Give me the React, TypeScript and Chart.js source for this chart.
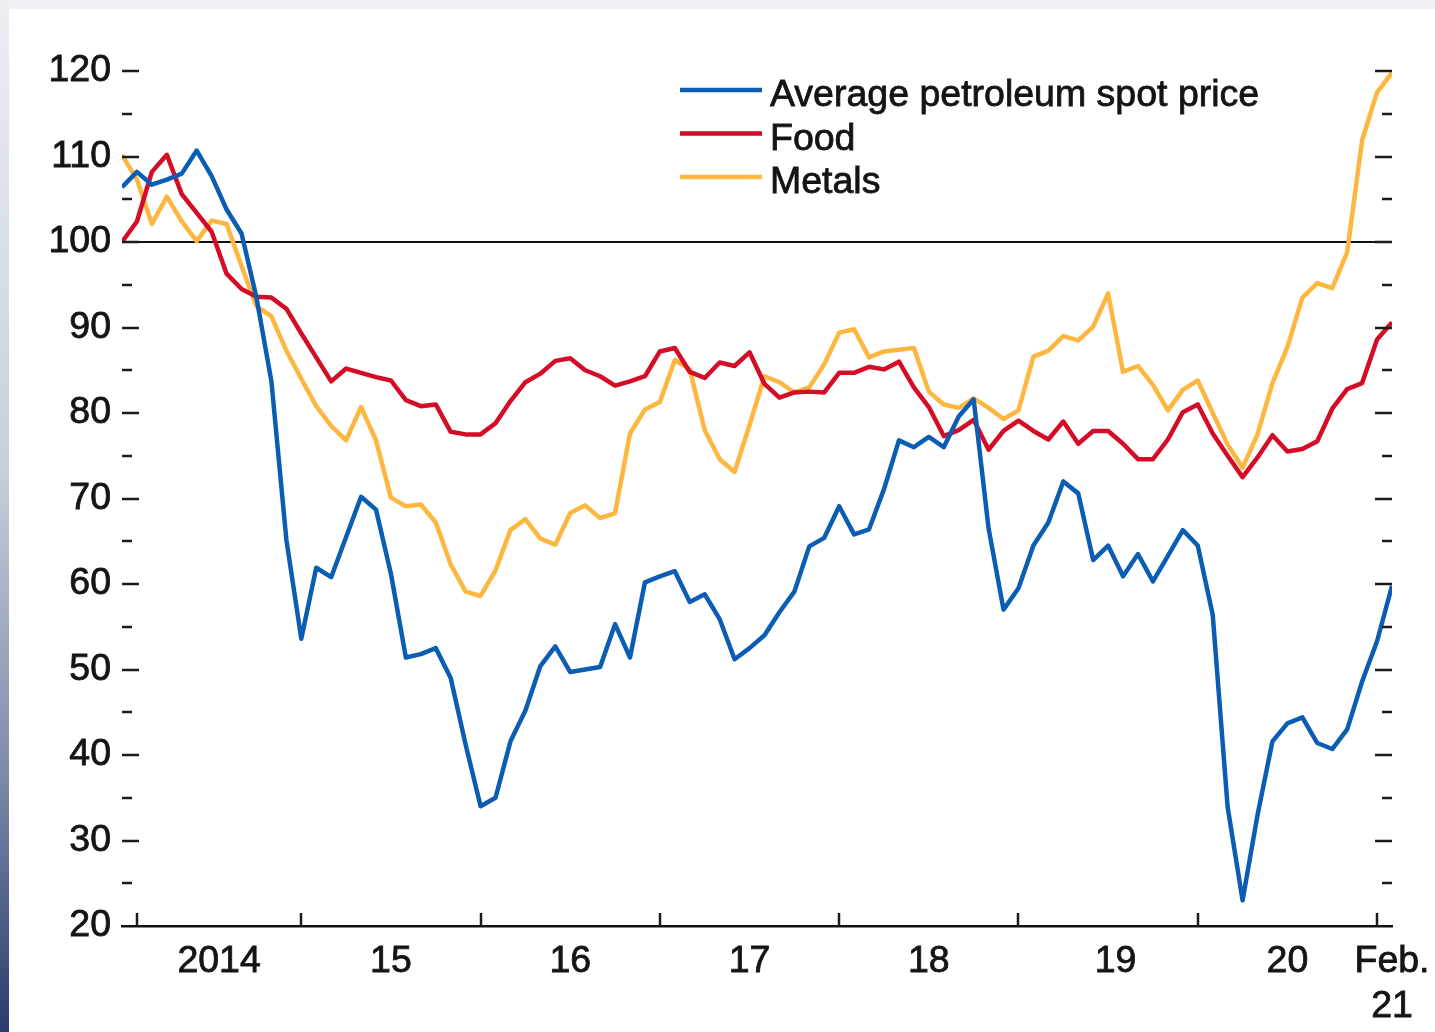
import React, { useEffect, useRef } from "react";
import { Chart, registerables } from "chart.js";

Chart.register(...registerables);

// Monthly data, index 0 = Jan 2014 ... index 85 = Feb 2021 (index, 2014 = 100)
const petroleum = [
  106.4, 108.2, 106.7, 107.3, 108.0, 110.7, 107.7, 103.8, 101.0, 93.5,
  83.7, 65.2, 53.6, 61.9, 60.8, 65.5, 70.2, 68.7, 61.2, 51.4,
  51.8, 52.5, 49.0, 41.2, 34.0, 35.0, 41.6, 45.2, 50.4, 52.7,
  49.7, 50.0, 50.3, 55.3, 51.4, 60.2, 60.9, 61.5, 57.9, 58.8,
  55.9, 51.2, 52.5, 54.0, 56.7, 59.1, 64.4, 65.4, 69.1, 65.8,
  66.4, 71.1, 76.8, 76.0, 77.2, 76.0, 79.6, 81.6, 66.5, 57.0,
  59.5, 64.5, 67.2, 72.0, 70.6, 62.8, 64.5, 60.9, 63.5, 60.3,
  63.3, 66.3, 64.5, 56.4, 33.9, 23.0, 33.0, 41.6, 43.7, 44.4,
  41.4, 40.7, 43.0, 48.6, 53.3, 59.8,
];
const food = [
  100.0, 102.4, 108.2, 110.2, 105.6, 103.4, 101.2, 96.3, 94.5, 93.6,
  93.5, 92.2, 89.3, 86.5, 83.7, 85.2, 84.7, 84.2, 83.8, 81.5,
  80.8, 81.0, 77.8, 77.5, 77.5, 78.8, 81.4, 83.6, 84.6, 86.1,
  86.4, 85.0, 84.3, 83.2, 83.7, 84.3, 87.2, 87.6, 84.8, 84.1,
  85.9, 85.5, 87.1, 83.4, 81.8, 82.4, 82.5, 82.4, 84.7, 84.7,
  85.4, 85.1, 86.0, 83.0, 80.7, 77.3, 78.0, 79.2, 75.7, 77.9,
  79.1, 77.9, 76.9, 79.0, 76.4, 77.9, 77.9, 76.4, 74.6, 74.6,
  76.9, 80.1, 81.0, 77.6, 75.0, 72.5, 74.8, 77.4, 75.5, 75.8,
  76.7, 80.5, 82.8, 83.5, 88.6, 90.6,
];
const metals = [
  110.2, 107.3, 102.1, 105.3, 102.4, 100.1, 102.5, 102.1, 97.2, 92.5,
  91.3, 87.3, 84.0, 80.8, 78.5, 76.8, 80.7, 76.8, 70.1, 69.1,
  69.3, 67.2, 62.3, 59.1, 58.6, 61.6, 66.3, 67.6, 65.3, 64.6,
  68.3, 69.2, 67.7, 68.3, 77.6, 80.4, 81.3, 86.2, 85.1, 78.0,
  74.6, 73.1, 78.6, 84.3, 83.6, 82.4, 83.0, 85.7, 89.4, 89.8,
  86.5, 87.2, 87.4, 87.6, 82.5, 81.0, 80.6, 81.7, 80.6, 79.3,
  80.3, 86.6, 87.3, 89.0, 88.5, 90.1, 94.0, 84.8, 85.5, 83.3,
  80.3, 82.7, 83.8, 80.0, 76.3, 73.6, 77.5, 83.5, 87.7, 93.5,
  95.2, 94.6, 98.8, 111.9, 117.5, 119.8,
];

const seriesNames = ["Average petroleum spot price", "Food", "Metals"];
const seriesColors = ["#0b5db4", "#d50c26", "#fdb63f"];

// x-axis: year tick marks (month index) and label positions / texts
const yearTickMonths = [1, 12, 24, 36, 48, 60, 72, 84];
const xLabelMonths = [6.5, 18, 30, 42, 54, 66.5, 78, 85];
const xLabels: (string | string[])[] = ["2014", "15", "16", "17", "18", "19", "20", ["Feb.", "21"]];

const yMin = 20;
const yMax = 120;
const yStep = 10;
const yMinorStep = 5;
const referenceLevel = 100;

const FONT = '"Liberation Sans", Arial, Helvetica, sans-serif';
const TEXT = "#141414";

const decorPlugin = {
  id: "decor",
  beforeDatasetsDraw(chart: any) {
    const { ctx, chartArea, scales } = chart;
    const y = scales.y.getPixelForValue(referenceLevel);
    ctx.save();
    ctx.strokeStyle = "#111";
    ctx.lineWidth = 2;
    ctx.beginPath();
    ctx.moveTo(chartArea.left, y);
    ctx.lineTo(chartArea.right, y);
    ctx.stroke();
    ctx.restore();
  },
  afterDraw(chart: any) {
    const { ctx, chartArea, scales } = chart;
    ctx.save();
    ctx.strokeStyle = "#1a1a1a";
    ctx.lineWidth = 2.5;
    // y tick marks, both sides, pointing inward
    for (let v = yMin + yMinorStep; v <= yMax; v += yMinorStep) {
      const py = Math.round(scales.y.getPixelForValue(v));
      const len = v % yStep === 0 ? 17 : 10;
      ctx.beginPath();
      ctx.moveTo(chartArea.left, py);
      ctx.lineTo(chartArea.left + len, py);
      ctx.moveTo(chartArea.right - len, py);
      ctx.lineTo(chartArea.right, py);
      ctx.stroke();
    }
    // x tick marks, pointing up
    yearTickMonths.forEach((m) => {
      const px = Math.round(scales.x.getPixelForValue(m));
      ctx.beginPath();
      ctx.moveTo(px, chartArea.bottom);
      ctx.lineTo(px, chartArea.bottom - 13);
      ctx.stroke();
    });
    // legend
    chart.data.datasets.forEach((ds: any, i: number) => {
      const ly = 90 + i * 43.5;
      ctx.strokeStyle = ds.borderColor;
      ctx.lineWidth = 4.5;
      ctx.beginPath();
      ctx.moveTo(680, ly);
      ctx.lineTo(762, ly);
      ctx.stroke();
      ctx.fillStyle = TEXT;
      ctx.strokeStyle = TEXT;
      ctx.lineWidth = 0.8;
      ctx.font = `37.5px ${FONT}`;
      ctx.textBaseline = "middle";
      ctx.textAlign = "left";
      ctx.fillText(ds.label, 770, ly + 6);
      ctx.strokeText(ds.label, 770, ly + 6);
    });
    ctx.restore();
  },
};

export default function App() {
  const ref = useRef<HTMLCanvasElement | null>(null);

  useEffect(() => {
    if (!ref.current) return;
    const series = [petroleum, food, metals];
    const chart = new Chart(ref.current, {
      type: "line",
      data: {
        datasets: series.map((vals, k) => ({
          label: seriesNames[k],
          data: vals.map((v, i) => ({ x: i, y: v })),
          borderColor: seriesColors[k],
          backgroundColor: seriesColors[k],
          borderWidth: 4.5,
          pointRadius: 0,
          tension: 0,
          borderJoinStyle: "round" as const,
          fill: false,
        })),
      },
      options: {
        animation: false,
        responsive: false,
        maintainAspectRatio: false,
        layout: { padding: { top: 71, right: 43, left: 0, bottom: 0 } },
        plugins: {
          legend: { display: false },
          tooltip: { enabled: false },
        },
        scales: {
          x: {
            type: "linear",
            min: 0,
            max: petroleum.length - 1,
            grid: { display: false, drawTicks: false },
            border: { display: true, color: "#111", width: 2.5 },
            afterFit: (s: any) => {
              s.height = 106;
              s.paddingLeft = 0;
              s.paddingRight = 0;
            },
            afterBuildTicks: (s: any) => {
              s.ticks = xLabelMonths.map((v) => ({ value: v }));
            },
            ticks: {
              autoSkip: false,
              maxRotation: 0,
              padding: 13,
              color: TEXT,
              textStrokeColor: TEXT,
              textStrokeWidth: 0.8,
              font: { size: 37.5, family: FONT },
              callback: (_v: any, i: number) => xLabels[i],
            },
          },
          y: {
            min: yMin,
            max: yMax,
            grid: { display: false, drawTicks: false },
            border: { display: false },
            afterFit: (s: any) => {
              s.width = 122;
            },
            ticks: {
              stepSize: yStep,
              padding: 11,
              color: TEXT,
              textStrokeColor: TEXT,
              textStrokeWidth: 0.8,
              font: { size: 37.5, family: FONT },
            },
          },
        },
      },
      plugins: [decorPlugin],
    });
    return () => chart.destroy();
  }, []);

  return (
    <div
      style={{
        position: "absolute",
        left: 0,
        top: 0,
        width: 1435,
        height: 1032,
        background: "#eff0f3",
        overflow: "hidden",
      }}
    >
      <div
        style={{
          position: "absolute",
          left: 0,
          top: 0,
          width: 9,
          height: 1032,
          background: "linear-gradient(to bottom, #eceef2 0%, #c9cfdb 45%, #7d8aa9 75%, #2a3a6c 100%)",
        }}
      />
      <div
        style={{
          position: "absolute",
          left: 9,
          top: 9,
          right: 0,
          bottom: 0,
          background: "#ffffff",
        }}
      />
      <canvas
        ref={ref}
        width={1435}
        height={1032}
        style={{ position: "absolute", left: 0, top: 0, width: 1435, height: 1032 }}
      />
    </div>
  );
}
